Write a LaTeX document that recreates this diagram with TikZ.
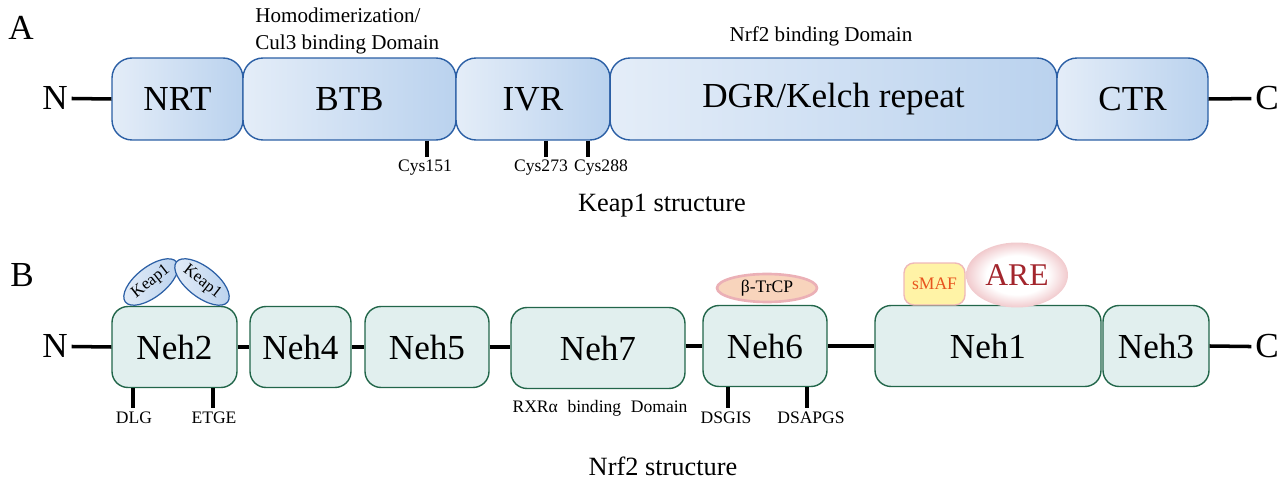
\documentclass[tikz,border=0pt]{standalone}
\usepackage{fontspec}
\setmainfont{Liberation Serif}
\usetikzlibrary{shapes.geometric}
\definecolor{keapL}{HTML}{E4EDF8}
\definecolor{keapR}{HTML}{BAD2EE}
\definecolor{keapLine}{HTML}{2B5FA5}
\definecolor{nehFill}{HTML}{E1EFEE}
\definecolor{nehLine}{HTML}{22664A}
\definecolor{trcpFill}{HTML}{F8D4BC}
\definecolor{trcpLine}{HTML}{EBB0B6}
\definecolor{smafFill}{HTML}{FFF3A6}
\definecolor{smafLine}{HTML}{EFB8B8}
\definecolor{smafText}{HTML}{E8541E}
\definecolor{areOut}{HTML}{F1CACD}
\definecolor{areText}{HTML}{A3262D}
\pgfdeclareradialshading{areglow}{\pgfpoint{0bp}{0bp}}{color(0bp)=(white); color(15bp)=(white);
  color(25bp)=(areOut); color(50bp)=(areOut)}
\tikzset{
  big/.style={font=\fontsize{20}{24}\selectfont},
  keapdom/.style={draw=keapLine, line width=0.8pt, rounded corners=0.4cm,
    left color=keapL, right color=keapR, minimum height=1.64cm, inner sep=0pt, big},
  nehdom/.style={draw=nehLine, line width=0.8pt, rounded corners=0.32cm,
    fill=nehFill, minimum height=1.62cm, inner sep=0pt, big},
  endlabel/.style={big, inner sep=2pt, anchor=base},
  backbone/.style={line width=2pt},
  tickline/.style={line width=2pt},
  site/.style={font=\fontsize{10}{12}\selectfont, inner sep=0pt, anchor=base},
  note/.style={font=\fontsize{12}{14}\selectfont, inner sep=0pt},
  caption/.style={font=\fontsize{15}{18}\selectfont, inner sep=0pt, anchor=base},
  keapone/.style={ellipse, draw=keapLine, line width=0.7pt, left color=keapL, right color=keapR,
    minimum width=1.3cm, minimum height=0.6cm, inner sep=0pt, font=\fontsize{9.5}{10}\selectfont},
}
\begin{document}
\begin{tikzpicture}[x=0.02cm, y=-0.02cm]
      \useasboundingbox (0,0) rectangle (1288,479);
      \node[endlabel] (labA) at (21,40) {A};
      \node[endlabel] (labB) at (22,287) {B};

      \node[keapdom, minimum width=2.62cm] (NRT) at (177.5,99) {NRT};
      \node[keapdom, minimum width=4.26cm] (BTB) at (349.5,99) {BTB};
      \node[keapdom, minimum width=3.08cm] (IVR) at (533,99) {IVR};
      \node[keapdom, minimum width=8.94cm] (DGR) at (833.5,99) {DGR/Kelch repeat};
      \node[keapdom, minimum width=3.02cm] (CTR) at (1132.5,99) {CTR};
      \node[endlabel] (kN) at (55,110) {N};
      \node[endlabel] (kC) at (1267,110) {C};
      \draw[backbone] (kN.east) -- (NRT.west);
      \draw[backbone] (CTR.east) -- (kC.west);

      \node[note, anchor=base west, align=left] (homo) at (255,50) {Homodimerization/\\[1.6pt]Cul3 binding Domain};
      \node[note, anchor=base] (nrfbind) at (821,42) {Nrf2 binding Domain};

      \node[site] (c151) at (425,172) {Cys151};
      \node[site] (c273) at (541,172) {Cys273};
      \node[site] (c288) at (601,172) {Cys288};
      \coordinate (t151) at (427,157);
      \coordinate (t273) at (546,157);
      \coordinate (t288) at (588,157);
      \draw[tickline] (t151 |- BTB.south) -- (t151);
      \draw[tickline] (t273 |- IVR.south) -- (t273);
      \draw[tickline] (t288 |- IVR.south) -- (t288);
      \node[caption] (keapcap) at (662,212) {Keap1 structure};

      \node[nehdom, minimum width=2.5cm] (Neh2) at (174.5,347) {Neh2};
      \node[nehdom, minimum width=2.02cm] (Neh4) at (300.5,347) {Neh4};
      \node[nehdom, minimum width=2.48cm] (Neh5) at (427,347) {Neh5};
      \node[nehdom, minimum width=3.48cm] (Neh7) at (598,348) {Neh7};
      \node[nehdom, minimum width=2.48cm] (Neh6) at (765,346) {Neh6};
      \node[nehdom, minimum width=4.52cm] (Neh1) at (988,346) {Neh1};
      \node[nehdom, minimum width=2.12cm] (Neh3) at (1156,346) {Neh3};
      \node[endlabel] (nN) at (55,358) {N};
      \node[endlabel] (nC) at (1267,358) {C};
      \draw[backbone] (nN.east) -- (Neh2.west);
      \draw[backbone] (Neh2.east) -- (Neh4.west);
      \draw[backbone] (Neh4.east) -- (Neh5.west);
      \draw[backbone] (Neh5.east) -- (Neh7.west |- Neh5.east);
      \draw[backbone] (Neh7.east |- Neh6.west) -- (Neh6.west);
      \draw[backbone] (Neh6.east) -- (Neh1.west);
      \draw[backbone] (Neh3.east) -- (nC.west);

      \node[keapone, rotate=38] (kp1) at (151,282) {Keap1};
      \node[keapone, rotate=-38] (kp2) at (202,282) {Keap1};
      \node[ellipse, draw=trcpLine, line width=1.5pt, fill=trcpFill, minimum width=2cm,
        minimum height=0.56cm, inner sep=0pt, font=\fontsize{10}{12}\selectfont] (trcp) at (767,288) {β-TrCP};
      \node[draw=smafLine, line width=0.8pt, fill=smafFill, rounded corners=0.2cm, minimum width=1.22cm,
        minimum height=0.84cm, inner sep=0pt, text=smafText, font=\fontsize{10}{12}\selectfont] (smaf) at (934.5,284) {sMAF};
      \node[ellipse, shading=areglow, minimum width=2.04cm, minimum height=1.3cm,
        inner sep=0pt, text=areText, font=\fontsize{18}{20}\selectfont] (are) at (1017,275) {ARE};

      \node[site] (dlg) at (134,423) {DLG};
      \node[site] (etge) at (214,423) {ETGE};
      \node[site] (dsgis) at (726,423) {DSGIS};
      \node[site] (dsapgs) at (811,423) {DSAPGS};
      \coordinate (tdlg) at (133,408);
      \coordinate (tetge) at (213,408);
      \coordinate (tdsgis) at (728,408);
      \coordinate (tdsapgs) at (807,408);
      \draw[tickline] (tdlg |- Neh2.south) -- (tdlg);
      \draw[tickline] (tetge |- Neh2.south) -- (tetge);
      \draw[tickline] (tdsgis |- Neh6.south) -- (tdsgis);
      \draw[tickline] (tdsapgs |- Neh6.south) -- (tdsapgs);
      \node[site] (rxr) at (600,413) {RXRα\hspace{0.55em}binding\hspace{0.55em}Domain};
      \node[caption] (nrfcap) at (663,475) {Nrf2 structure};
   \end{tikzpicture}
\end{document}
